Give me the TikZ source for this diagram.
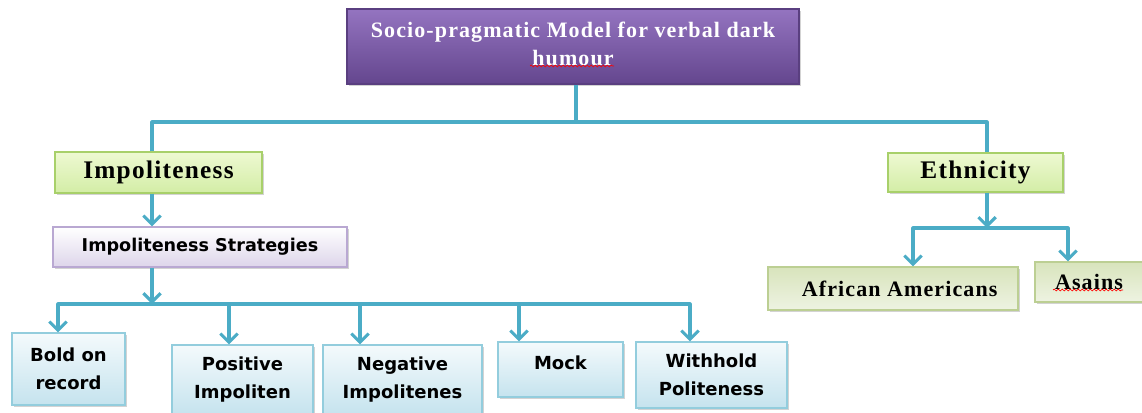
\documentclass[tikz,border=0pt]{standalone}
\usepackage{fontspec}
\setmainfont{Liberation Serif}
\newfontfamily\headfont[LetterSpace=5]{Liberation Serif}
\newfontfamily\boxfont{DejaVu Sans}
\usetikzlibrary{arrows.meta, shadows, decorations.pathmorphing}

\definecolor{linkblue}{HTML}{4BACC6}
\definecolor{purpletop}{HTML}{9474C0}
\definecolor{purplebot}{HTML}{64468E}
\definecolor{purpleline}{HTML}{5A3F80}
\definecolor{greentop}{HTML}{EEF9D2}
\definecolor{greenbot}{HTML}{D3EDA6}
\definecolor{greenline}{HTML}{A8D06A}
\definecolor{olivetop}{HTML}{D8E4BC}
\definecolor{olivebot}{HTML}{EEF3E2}
\definecolor{oliveline}{HTML}{BCCF93}
\definecolor{lilacbot}{HTML}{DDD5EA}
\definecolor{lilacline}{HTML}{B9A8D2}
\definecolor{bluetop}{HTML}{F4FAFC}
\definecolor{bluebot}{HTML}{C5E3EE}
\definecolor{blueline}{HTML}{93CDDD}

\begin{document}
\begin{tikzpicture}[
						x=0.75pt, y=-0.75pt,
						box/.style = {draw, rectangle, line width=0.8pt, inner sep=2pt, align=center,
							drop shadow={shadow xshift=1.5pt, shadow yshift=-1.5pt, opacity=0.35}},
						titlebox/.style = {box, draw=purpleline, top color=purpletop, bottom color=purplebot,
							text=white, font=\headfont\bfseries\fontsize{16.5}{21}\selectfont},
						greenbox/.style = {box, draw=greenline, top color=greentop, bottom color=greenbot,
							font=\headfont\bfseries\fontsize{19}{22}\selectfont},
						olivebox/.style = {box, draw=oliveline, top color=olivetop, bottom color=olivebot,
							font=\headfont\bfseries\fontsize{16.5}{19}\selectfont},
						lilacbox/.style = {box, draw=lilacline, top color=white, bottom color=lilacbot,
							font=\boxfont\bfseries\fontsize{13.2}{18}\selectfont},
						bluebox/.style = {box, draw=blueline, top color=bluetop, bottom color=bluebot,
							font=\boxfont\bfseries\fontsize{13.5}{21}\selectfont},
						link/.style = {draw=linkblue, line width=2.3pt, line join=round},
						arr/.style = {link, -{Straight Barb[length=6.5pt, width=13pt]}},
						spell/.style = {draw=red, line width=0.5pt, decorate,
							decoration={snake, amplitude=0.7pt, segment length=3pt}}
					]

					\useasboundingbox (0,0) rectangle (1142,412);

					% header
					\node[titlebox, minimum width=339pt, minimum height=56.25pt, text depth=4pt] (model) at (573,46.5)
						{Socio-pragmatic Model for verbal dark\\humour};

					% second level
					\node[greenbox, minimum width=155.25pt, minimum height=30.75pt] (impol) at (158.5,172.5) {Impoliteness};
					\node[greenbox, minimum width=131.25pt, minimum height=29.25pt] (ethn) at (975.5,172.5) {Ethnicity};

					\node[lilacbox, minimum width=220.5pt, minimum height=30pt] (strat) at (200,247) {Impoliteness Strategies};

					% strategies
					\node[bluebox, minimum width=84.75pt, minimum height=54pt] (bold) at (68.5,369) {Bold on\\record};
					\node[bluebox, minimum width=105.75pt, minimum height=52.5pt] (pos) at (242.5,380) {Positive\\Impoliten};
					\node[bluebox, minimum width=119.25pt, minimum height=52.5pt] (neg) at (402.5,380) {Negative\\Impolitenes};
					\node[bluebox, minimum width=93.75pt, minimum height=41.25pt, text depth=10pt] (mock) at (560.5,369.5) {Mock};
					\node[bluebox, minimum width=113.25pt, minimum height=49.5pt] (with) at (711.5,375) {Withhold\\Politeness};

					% ethnic groups
					\node[olivebox, minimum width=187.5pt, minimum height=32.25pt] (afro) at (893,288.5) {\hspace*{10pt}African Americans};
					\node[olivebox, minimum width=81pt, minimum height=30pt] (asia) at (1089,282) {Asains};

					% connectors
					\coordinate (trunk) at (576,122);
					\coordinate (splitL) at (152,122);
					\coordinate (splitR) at (987,122);
					\draw[link] (model.south -| trunk) -- (trunk);
					\draw[link] (impol.north -| splitL) |- (splitR) -- (ethn.north -| splitR);

					\draw[arr] (impol.south -| splitL) -- (strat.north -| splitL);

					\coordinate (busmid) at (152,304);
					\coordinate (busL) at (58,304);
					\coordinate (busR) at (690,304);
					\draw[arr] (strat.south -| busmid) -- (busmid);
					\draw[arr] (busmid) -| (bold.north -| busL);
					\draw[arr] (busmid) -| (with.north -| busR);
					\foreach \name/\xpos in {pos/229, neg/360, mock/519} {
						\coordinate (drop-\name) at (\xpos,304);
						\draw[arr] (drop-\name) -- (drop-\name |- \name.north);
					}

					\coordinate (ebar) at (987,228);
					\coordinate (ebarL) at (913,228);
					\coordinate (ebarR) at (1068,228);
					\draw[arr] (ethn.south -| splitR) -- (ebar);
					\draw[arr] (ebar) -| (afro.north -| ebarL);
					\draw[arr] (ebar) -| (asia.north -| ebarR);

					% spelling marks
					\draw[spell] (530,66) -- (614,66);
					\draw[spell] (1053,290) -- (1123,290);
				\end{tikzpicture}
\end{document}
